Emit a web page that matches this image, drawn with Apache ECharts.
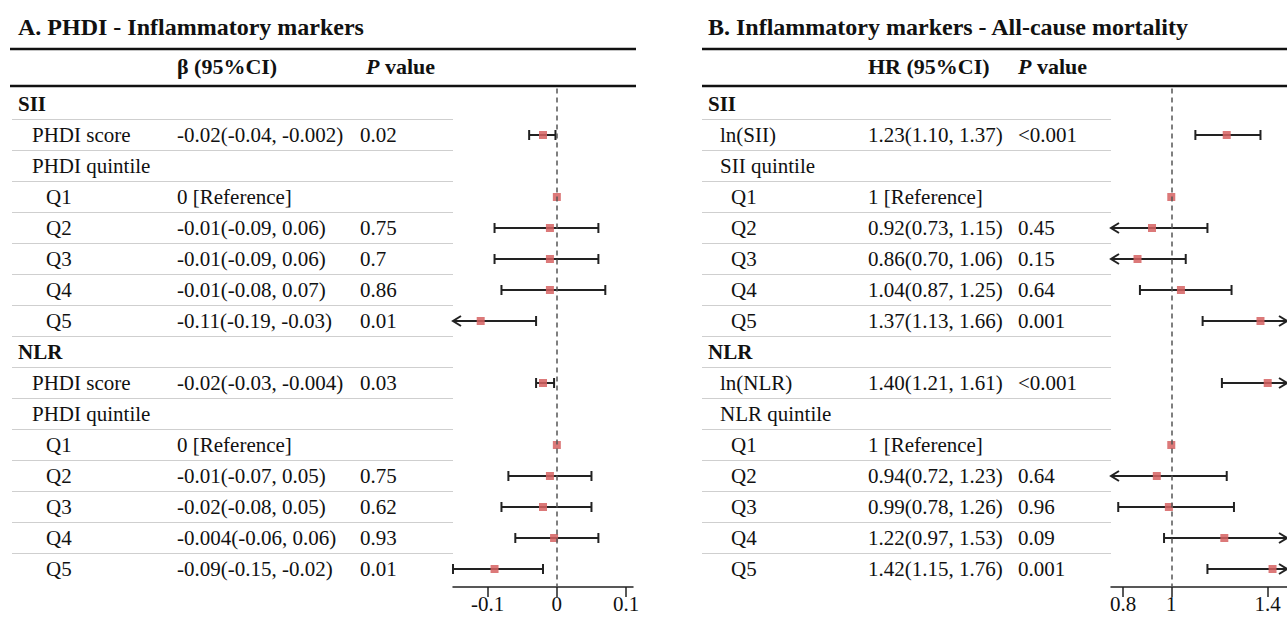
<!DOCTYPE html>
<html><head><meta charset="utf-8">
<script src="https://cdn.jsdelivr.net/npm/echarts@6/dist/echarts.min.js"></script>
<style>html,body{margin:0;padding:0;background:#fff}#c{width:1287px;height:622px}</style>
</head><body><div id="c"></div>
<script>
// ---------- DATA ----------
const groups = ['SII', 'NLR'];
const titleA = 'A. PHDI - Inflammatory markers';
const titleB = 'B. Inflammatory markers - All-cause mortality';
const headEstA = 'β (95%CI)';
const headEstB = 'HR (95%CI)';
const headP = 'value';

const labelsA = ['SII','PHDI score','PHDI quintile','Q1','Q2','Q3','Q4','Q5','NLR','PHDI score','PHDI quintile','Q1','Q2','Q3','Q4','Q5'];
const estA  = [null,-0.02,null,0,-0.01,-0.01,-0.01,-0.11,null,-0.02,null,0,-0.01,-0.02,-0.004,-0.09];
const lowA  = [null,-0.04,null,null,-0.09,-0.09,-0.08,-0.19,null,-0.03,null,null,-0.07,-0.08,-0.06,-0.15];
const highA = [null,-0.002,null,null,0.06,0.06,0.07,-0.03,null,-0.004,null,null,0.05,0.05,0.06,-0.02];
const ciTextA = ['','-0.02(-0.04, -0.002)','','0 [Reference]','-0.01(-0.09, 0.06)','-0.01(-0.09, 0.06)','-0.01(-0.08, 0.07)','-0.11(-0.19, -0.03)','','-0.02(-0.03, -0.004)','','0 [Reference]','-0.01(-0.07, 0.05)','-0.02(-0.08, 0.05)','-0.004(-0.06, 0.06)','-0.09(-0.15, -0.02)'];
const pTextA = ['','0.02','','','0.75','0.7','0.86','0.01','','0.03','','','0.75','0.62','0.93','0.01'];
const ticksA = [-0.1, 0, 0.1];
const rangeA = [-0.15, 0.11];
const refA = 0;

const labelsB = ['SII','ln(SII)','SII quintile','Q1','Q2','Q3','Q4','Q5','NLR','ln(NLR)','NLR quintile','Q1','Q2','Q3','Q4','Q5'];
const estB  = [null,1.23,null,1,0.92,0.86,1.04,1.37,null,1.40,null,1,0.94,0.99,1.22,1.42];
const lowB  = [null,1.10,null,null,0.73,0.70,0.87,1.13,null,1.21,null,null,0.72,0.78,0.97,1.15];
const highB = [null,1.37,null,null,1.15,1.06,1.25,1.66,null,1.61,null,null,1.23,1.26,1.53,1.76];
const ciTextB = ['','1.23(1.10, 1.37)','','1 [Reference]','0.92(0.73, 1.15)','0.86(0.70, 1.06)','1.04(0.87, 1.25)','1.37(1.13, 1.66)','','1.40(1.21, 1.61)','','1 [Reference]','0.94(0.72, 1.23)','0.99(0.78, 1.26)','1.22(0.97, 1.53)','1.42(1.15, 1.76)'];
const pTextB = ['','<0.001','','','0.45','0.15','0.64','0.001','','<0.001','','','0.64','0.96','0.09','0.001'];
const ticksB = [0.8, 1, 1.4];
const rangeB = [0.75, 1.48];
const refB = 1;

// ---------- LAYOUT / STYLE ----------
const FONT = '"Liberation Serif", "Times New Roman", serif';
const BODY = 21;
const TXT = '#111';
const panels = [
  {labels: labelsA, est: estA, low: lowA, high: highA, ci: ciTextA, p: pTextA, range: rangeA,
   cols: {lv: [18, 32, 46], ci: 177, p: 360, sepL: 12, sepR: 453}},
  {labels: labelsB, est: estB, low: lowB, high: highB, ci: ciTextB, p: pTextB, range: rangeB,
   cols: {lv: [708, 720, 731], ci: 868, p: 1018, sepL: 702, sepR: 1111}}
];

function makeRender(P) {
  return function (params, api) {
    const i = api.value(0);
    const y = api.coord([P.range[0], i])[1];
    const ch = [];
    const label = P.labels[i];
    const lvl = groups.includes(label) ? 0 : (/^Q\d/.test(label) ? 2 : 1);
    const font = BODY + 'px ' + FONT;
    ch.push({type: 'text', style: {x: P.cols.lv[lvl], y: y, text: label, font: (lvl === 0 ? 'bold ' : '') + font, fill: TXT, verticalAlign: 'middle', align: 'left'}});
    if (P.ci[i]) ch.push({type: 'text', style: {x: P.cols.ci, y: y, text: P.ci[i], font: font, fill: TXT, verticalAlign: 'middle'}});
    if (P.p[i]) ch.push({type: 'text', style: {x: P.cols.p, y: y, text: P.p[i], font: font, fill: TXT, verticalAlign: 'middle'}});
    if (i < P.labels.length - 1) {
      ch.push({type: 'line', shape: {x1: P.cols.sepL, y1: y + 15.5, x2: P.cols.sepR, y2: y + 15.5}, style: {stroke: '#cfcfcf', lineWidth: 1}});
    }
    const lo = P.low[i], hi = P.high[i];
    if (lo != null && hi != null) {
      const a = Math.max(lo, P.range[0]), b = Math.min(hi, P.range[1]);
      const x1 = api.coord([a, i])[0], x2 = api.coord([b, i])[0];
      const st = {stroke: '#222', lineWidth: 2, fill: null};
      ch.push({type: 'line', shape: {x1: x1, y1: y, x2: x2, y2: y}, style: st});
      if (lo < P.range[0]) ch.push({type: 'polyline', shape: {points: [[x1 + 8, y - 5], [x1, y], [x1 + 8, y + 5]]}, style: st});
      else ch.push({type: 'line', shape: {x1: x1, y1: y - 5, x2: x1, y2: y + 5}, style: st});
      if (hi > P.range[1]) ch.push({type: 'polyline', shape: {points: [[x2 - 8, y - 5], [x2, y], [x2 - 8, y + 5]]}, style: st});
      else ch.push({type: 'line', shape: {x1: x2, y1: y - 5, x2: x2, y2: y + 5}, style: st});
    }
    if (P.est[i] != null) {
      const xe = api.coord([P.est[i], i])[0];
      ch.push({type: 'rect', shape: {x: xe - 4, y: y - 4, width: 8, height: 8}, style: {fill: 'rgba(214,98,98,0.85)'}});
    }
    return {type: 'group', children: ch};
  };
}

const gridTop = 88.5, axisY = 587;
const yMax = (axisY - 104) / 31;
function xAxisFor(gi, range, ticks) {
  return {
    gridIndex: gi, type: 'value', min: range[0], max: range[1], position: 'bottom',
    axisLine: {show: true, onZero: false, lineStyle: {color: '#222', width: 1.5}},
    axisTick: {show: true, customValues: ticks, length: 10, lineStyle: {color: '#222', width: 1.5}},
    axisLabel: {customValues: ticks, fontSize: BODY, fontFamily: FONT, color: TXT, margin: 6},
    splitLine: {show: false}
  };
}
function yAxisFor(gi) {
  return {gridIndex: gi, type: 'value', min: -0.5, max: yMax, inverse: true, show: false};
}
function refLine(gi, v) {
  return {type: 'line', xAxisIndex: gi, yAxisIndex: gi, data: [], silent: true,
    markLine: {symbol: 'none', silent: true, label: {show: false},
      lineStyle: {type: [5, 4], color: '#555', width: 1.5}, data: [{xAxis: v}]}};
}

const thick = {stroke: '#111', lineWidth: 2.5};
const headFont = 'bold 22px ' + FONT;
function header(x, y, estHead, pX) {
  return [
    {type: 'text', left: x, top: y - 13, style: {text: estHead, font: headFont, fill: TXT}},
    {type: 'text', left: pX, top: y - 13, style: {text: '{i|P} ' + headP, font: headFont, fill: TXT,
      rich: {i: {fontStyle: 'italic', fontWeight: 'bold', fontSize: 22, fontFamily: FONT}}}}
  ];
}

const chart = echarts.init(document.getElementById('c'), null, {renderer: 'svg'});
chart.setOption({
  backgroundColor: '#fff',
  animation: false,
  grid: [
    {left: 453, width: 180, top: gridTop, height: axisY - gridTop},
    {left: 1111, width: 176, top: gridTop, height: axisY - gridTop}
  ],
  xAxis: [xAxisFor(0, rangeA, ticksA), xAxisFor(1, rangeB, ticksB)],
  yAxis: [yAxisFor(0), yAxisFor(1)],
  graphic: [
    {type: 'text', left: 18, top: 15, style: {text: titleA, font: 'bold 24px ' + FONT, fill: TXT}},
    {type: 'text', left: 708, top: 15, style: {text: titleB, font: 'bold 24px ' + FONT, fill: TXT}},
    {type: 'line', shape: {x1: 10, y1: 49, x2: 636, y2: 49}, style: thick},
    {type: 'line', shape: {x1: 10, y1: 86, x2: 636, y2: 86}, style: thick},
    {type: 'line', shape: {x1: 702, y1: 49, x2: 1287, y2: 49}, style: thick},
    {type: 'line', shape: {x1: 702, y1: 86, x2: 1287, y2: 86}, style: thick}
  ].concat(header(177, 68, headEstA, 366), header(868, 68, headEstB, 1018)),
  series: [
    refLine(0, refA), refLine(1, refB),
    {type: 'custom', xAxisIndex: 0, yAxisIndex: 0, renderItem: makeRender(panels[0]), clip: false,
      data: labelsA.map((_, i) => [i]), encode: {y: 0}},
    {type: 'custom', xAxisIndex: 1, yAxisIndex: 1, renderItem: makeRender(panels[1]), clip: false,
      data: labelsB.map((_, i) => [i]), encode: {y: 0}}
  ]
});
</script></body></html>
